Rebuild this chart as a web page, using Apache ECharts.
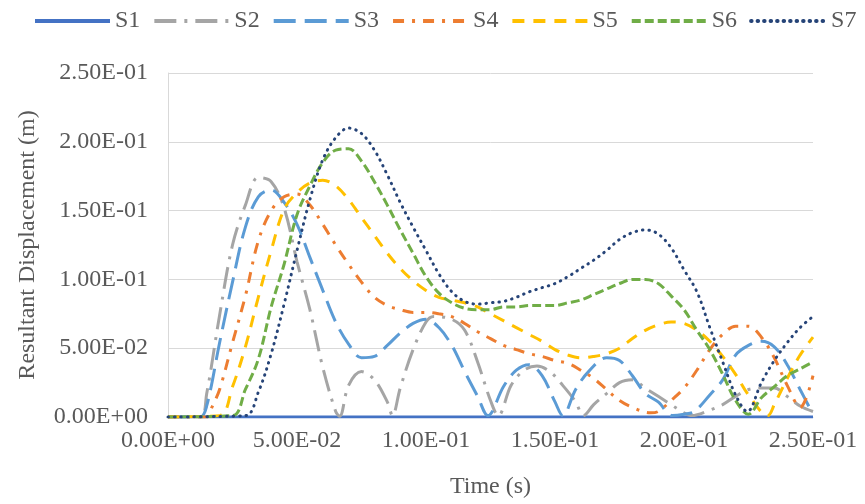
<!DOCTYPE html>
<html>
<head>
<meta charset="utf-8">
<script src="https://cdn.jsdelivr.net/npm/echarts@6/dist/echarts.min.js"></script>
<style>
  html, body { margin: 0; padding: 0; background: #fff; }
  #chart { width: 865px; height: 504px; }
</style>
</head>
<body>
<div id="chart"></div>
<script>
// Resultant displacement (m) against time (s) for seven cases S1..S7.
const seriesNames = ['S1', 'S2', 'S3', 'S4', 'S5', 'S6', 'S7'];
const xTicks = [0, 0.05, 0.10, 0.15, 0.20, 0.25];
const yTicks = [0, 0.05, 0.10, 0.15, 0.20, 0.25];

const tS1 = [0, 0.25];
const dS1 = [0, 0];

const tS2 = [0, 0.0125, 0.015, 0.02, 0.025, 0.03, 0.035, 0.04, 0.045, 0.05, 0.055, 0.06, 0.065, 0.0665,
  0.07, 0.075, 0.08, 0.085, 0.087, 0.09, 0.095, 0.1, 0.103, 0.11, 0.115, 0.12, 0.125, 0.128, 0.133,
  0.138, 0.143, 0.148, 0.153, 0.158, 0.161, 0.165, 0.17, 0.175, 0.18, 0.185, 0.19, 0.195, 0.2, 0.203,
  0.21, 0.215, 0.22, 0.225, 0.23, 0.235, 0.24, 0.245, 0.25];
const dS2 = [0, 0, 0.017, 0.074, 0.125, 0.154, 0.174, 0.171, 0.152, 0.113, 0.078, 0.036, 0.004, 0.0005,
  0.023, 0.033, 0.027, 0.011, 0.001, 0.021, 0.049, 0.069, 0.073, 0.071, 0.063, 0.040, 0.012, 0.001, 0.023,
  0.034, 0.037, 0.033, 0.023, 0.011, 0.001, 0.009, 0.017, 0.025, 0.027, 0.021, 0.015, 0.009, 0.003, 0.001,
  0.005, 0.009, 0.015, 0.020, 0.021, 0.021, 0.015, 0.008, 0.004];

const tS3 = [0, 0.0125, 0.015, 0.02, 0.025, 0.03, 0.035, 0.04, 0.045, 0.05, 0.055, 0.06, 0.065, 0.07,
  0.075, 0.08, 0.085, 0.09, 0.095, 0.1, 0.105, 0.11, 0.115, 0.12, 0.124, 0.13, 0.135, 0.14, 0.145, 0.15,
  0.153, 0.158, 0.163, 0.17, 0.175, 0.18, 0.185, 0.19, 0.1955, 0.2, 0.204, 0.21, 0.215, 0.22, 0.225,
  0.23, 0.235, 0.24, 0.245, 0.25];
const dS3 = [0, 0, 0.008, 0.054, 0.098, 0.138, 0.160, 0.165, 0.156, 0.140, 0.116, 0.092, 0.069, 0.053,
  0.043, 0.044, 0.052, 0.061, 0.068, 0.071, 0.065, 0.052, 0.033, 0.015, 0.001, 0.022, 0.034, 0.038, 0.030, 0.011,
  0.001, 0.020, 0.033, 0.043, 0.041, 0.030, 0.017, 0.011, 0.001, 0.002, 0.004, 0.016, 0.027, 0.045, 0.052,
  0.055, 0.051, 0.038, 0.020, 0.002];

const tS4 = [0, 0.015, 0.017, 0.02, 0.025, 0.03, 0.035, 0.04, 0.045, 0.05, 0.055, 0.06, 0.065, 0.07,
  0.075, 0.08, 0.085, 0.09, 0.095, 0.1, 0.105, 0.11, 0.115, 0.12, 0.125, 0.13, 0.135, 0.14, 0.145, 0.15,
  0.155, 0.16, 0.165, 0.17, 0.175, 0.18, 0.187, 0.19, 0.195, 0.2, 0.205, 0.21, 0.215, 0.22, 0.225, 0.23,
  0.235, 0.24, 0.245, 0.25];
const dS4 = [0, 0, 0.007, 0.020, 0.054, 0.088, 0.128, 0.150, 0.160, 0.162, 0.154, 0.140, 0.125, 0.111,
  0.098, 0.087, 0.081, 0.078, 0.076, 0.076, 0.075, 0.073, 0.068, 0.062, 0.057, 0.052, 0.049, 0.046, 0.044, 0.041,
  0.039, 0.034, 0.028, 0.020, 0.012, 0.007, 0.003, 0.004, 0.012, 0.021, 0.034, 0.049, 0.060, 0.066, 0.066, 0.058,
  0.043, 0.023, 0.007, 0.030];

const tS5 = [0, 0.02, 0.025, 0.03, 0.035, 0.04, 0.045, 0.05, 0.055, 0.06, 0.065, 0.07, 0.075, 0.08,
  0.085, 0.09, 0.095, 0.1, 0.105, 0.11, 0.115, 0.12, 0.125, 0.13, 0.135, 0.14, 0.145, 0.15, 0.155, 0.16,
  0.165, 0.17, 0.175, 0.18, 0.185, 0.19, 0.195, 0.2, 0.205, 0.21, 0.215, 0.22, 0.225, 0.2325, 0.235,
  0.24, 0.245, 0.25];
const dS5 = [0, 0.001, 0.022, 0.051, 0.087, 0.121, 0.151, 0.163, 0.170, 0.172, 0.168, 0.158, 0.145, 0.132,
  0.119, 0.108, 0.099, 0.092, 0.087, 0.085, 0.083, 0.080, 0.075, 0.070, 0.065, 0.060, 0.055, 0.049, 0.045, 0.043,
  0.044, 0.046, 0.050, 0.057, 0.063, 0.067, 0.069, 0.068, 0.063, 0.055, 0.044, 0.031, 0.016, 0.001, 0.009,
  0.028, 0.045, 0.058];

const tS6 = [0, 0.025, 0.03, 0.035, 0.04, 0.045, 0.05, 0.055, 0.06, 0.065, 0.07, 0.075, 0.08, 0.085,
  0.09, 0.095, 0.1, 0.105, 0.11, 0.115, 0.12, 0.125, 0.13, 0.135, 0.14, 0.145, 0.15, 0.155, 0.16, 0.165,
  0.17, 0.175, 0.18, 0.185, 0.19, 0.195, 0.2, 0.205, 0.21, 0.215, 0.22, 0.225, 0.23, 0.235, 0.24, 0.245, 0.25];
const dS6 = [0, 0.001, 0.020, 0.042, 0.080, 0.111, 0.147, 0.168, 0.185, 0.194, 0.195, 0.186, 0.171, 0.154,
  0.136, 0.119, 0.102, 0.090, 0.083, 0.079, 0.078, 0.078, 0.080, 0.080, 0.081, 0.081, 0.081, 0.083, 0.085, 0.089,
  0.093, 0.097, 0.100, 0.100, 0.097, 0.088, 0.078, 0.063, 0.049, 0.031, 0.012, 0.002, 0.014, 0.022, 0.030, 0.035, 0.040];

const tS7 = [0, 0.03, 0.035, 0.04, 0.045, 0.05, 0.055, 0.06, 0.065, 0.07, 0.075, 0.08, 0.085, 0.09,
  0.095, 0.1, 0.105, 0.11, 0.115, 0.12, 0.125, 0.13, 0.135, 0.14, 0.145, 0.15, 0.155, 0.16, 0.165, 0.17,
  0.175, 0.18, 0.185, 0.19, 0.195, 0.2, 0.205, 0.21, 0.215, 0.22, 0.2245, 0.23, 0.235, 0.24, 0.245, 0.25];
const dS7 = [0, 0.001, 0.018, 0.046, 0.082, 0.121, 0.158, 0.187, 0.203, 0.210, 0.206, 0.194, 0.176, 0.156,
  0.138, 0.121, 0.104, 0.091, 0.084, 0.082, 0.083, 0.084, 0.087, 0.091, 0.094, 0.097, 0.102, 0.108, 0.114, 0.121,
  0.129, 0.134, 0.136, 0.133, 0.123, 0.107, 0.091, 0.065, 0.040, 0.016, 0.004, 0.025, 0.041, 0.054, 0.065, 0.073];

const seriesTimes = [tS1, tS2, tS3, tS4, tS5, tS6, tS7];
const seriesDisp = [dS1, dS2, dS3, dS4, dS5, dS6, dS7];

// Office-style palette and dash patterns per case
const colors = ['#4472C4', '#A5A5A5', '#5B9BD5', '#ED7D31', '#FFC000', '#70AD47', '#264478'];
const dashes = ['solid', [22, 8, 3, 8], [22, 9], [11, 8, 3, 8], [12, 9], [9, 4], [0.5, 6]];
const caps = ['butt', 'butt', 'butt', 'butt', 'butt', 'butt', 'round'];

// Scientific notation like 2.50E-01 / 0.00E+00
function sci(v) {
  const s = Number(v).toExponential(2);
  const [m, e] = s.split('e');
  const n = parseInt(e, 10);
  const sign = n < 0 ? '-' : '+';
  const abs = Math.abs(n);
  return m + 'E' + sign + (abs < 10 ? '0' + abs : String(abs));
}

const FONT = '"Liberation Serif", "Times New Roman", serif';
const TEXT = '#595959';

const chart = echarts.init(document.getElementById('chart'), null, { renderer: 'canvas' });

chart.setOption({
  animation: false,
  backgroundColor: '#ffffff',
  textStyle: { fontFamily: FONT },
  legend: {
    top: 4,
    left: 28,
    itemWidth: 75,
    itemHeight: 14,
    itemGap: 12,
    itemStyle: { opacity: 0 },
    lineStyle: { width: 4 },
    textStyle: { fontFamily: FONT, fontSize: 24, color: TEXT },
    data: seriesNames
  },
  grid: { left: 168, right: 52, top: 73, bottom: 87 },
  xAxis: {
    type: 'value',
    min: xTicks[0],
    max: xTicks[xTicks.length - 1],
    interval: xTicks[1] - xTicks[0],
    name: 'Time (s)',
    nameLocation: 'middle',
    nameGap: 58,
    nameTextStyle: { fontFamily: FONT, fontSize: 24, color: TEXT },
    axisLine: { show: true, lineStyle: { color: '#D9D9D9', width: 1 } },
    axisTick: { show: false },
    splitLine: { show: false },
    axisLabel: { fontFamily: FONT, fontSize: 24, color: TEXT, margin: 12, formatter: sci }
  },
  yAxis: {
    type: 'value',
    min: yTicks[0],
    max: yTicks[yTicks.length - 1],
    interval: yTicks[1] - yTicks[0],
    name: 'Resultant Displacement (m)',
    nameLocation: 'middle',
    nameGap: 128,
    nameTextStyle: { fontFamily: FONT, fontSize: 24, color: TEXT },
    axisLine: { show: true, lineStyle: { color: '#D9D9D9', width: 1 } },
    axisTick: { show: false },
    splitLine: { show: true, lineStyle: { color: '#D9D9D9', width: 1 } },
    axisLabel: { fontFamily: FONT, fontSize: 24, color: TEXT, margin: 20, formatter: sci }
  },
  series: seriesNames.map((name, k) => ({
    name: name,
    type: 'line',
    smooth: 0.35,
    symbol: 'none',
    clip: true,
    color: colors[k],
    lineStyle: { color: colors[k], width: 3, type: dashes[k], cap: caps[k] },
    data: seriesTimes[k].map((t, i) => [t, seriesDisp[k][i]])
  }))
});
</script>
</body>
</html>
